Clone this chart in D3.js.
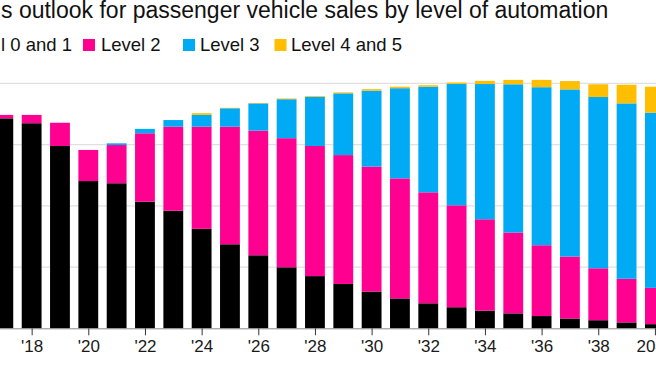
<!DOCTYPE html>
<html>
<head>
<meta charset="utf-8">
<script src="https://cdn.jsdelivr.net/npm/d3@7"></script>
<style>
  html, body { margin: 0; padding: 0; background: #fff; overflow: hidden; }
  svg { display: block; font-family: "Liberation Sans", Arial, Helvetica, sans-serif; }
</style>
</head>
<body>
<svg id="chart" width="656" height="369"></svg>
<script>
// ---- data (millions of passenger vehicles) ----
const years    = [2017,2018,2019,2020,2021,2022,2023,2024,2025,2026,2027,2028,2029,2030,2031,2032,2033,2034,2035,2036,2037,2038,2039,2040];
const level01  = [85.7,83.7,74.4,60.1,59.2,51.7,48.0,40.6,34.3,29.8,24.9,21.3,18.1,15.0,12.2,10.2, 8.6, 7.2, 6.1, 5.0, 4.0, 3.3, 2.4, 1.7];
const level2   = [ 1.4, 3.4, 9.5,12.7,15.6,27.9,34.3,41.7,48.0,50.9,52.7,53.1,52.6,51.0,49.0,45.3,41.6,37.3,33.0,28.9,25.3,21.2,17.8,14.8];
const level3   = [ 0.0, 0.0, 0.0, 0.0, 0.7, 1.8, 2.7, 4.8, 7.5,11.1,15.9,20.1,25.2,31.0,36.8,43.1,49.5,55.2,60.5,64.5,68.2,69.9,71.6,71.5];
const level45  = [ 0.0, 0.0, 0.0, 0.0, 0.0, 0.0, 0.0, 0.7, 0.2, 0.2, 0.3, 0.3, 0.4, 0.6, 0.6, 0.6, 0.6, 1.3, 1.8, 3.0, 3.4, 5.2, 7.6,10.6];
const seriesKeys   = ["level01","level2","level3","level45"];
const seriesLabels = ["l 0 and 1","Level 2","Level 3","Level 4 and 5"];
const seriesColors = ["#000000","#ff0090","#00aaf5","#ffbe00"];
const tickYears  = [2018,2020,2022,2024,2026,2028,2030,2032,2034,2036,2038,2040];
const tickLabels = ["'18","'20","'22","'24","'26","'28","'30","'32","'34","'36","'38","2040"];
const gridValues = [25,50,75,100];
const titleText  = "s outlook for passenger vehicle sales by level of automation";

// ---- build table ----
const table = years.map((y,i) => ({year:y, level01:level01[i], level2:level2[i], level3:level3[i], level45:level45[i]}));

const svg = d3.select("#chart");
const W = 656, H = 369;

const step = 28.33;
const x0 = -10.85;
const x = d3.scaleBand().domain(years).range([x0, x0 + step*years.length]).paddingInner(0.3).paddingOuter(0.15);
const y = d3.scaleLinear().domain([0,100]).range([328.3, 83.3]);

// gridlines
svg.append("g").selectAll("line").data(gridValues).join("line")
  .attr("x1", 0).attr("x2", W)
  .attr("y1", d => y(d)).attr("y2", d => y(d))
  .attr("stroke", "#e0e0e0").attr("stroke-width", 1.3);

// stacked bars
const stack = d3.stack().keys(seriesKeys)(table);
svg.append("g").selectAll("g").data(stack).join("g")
  .attr("fill", (d,i) => seriesColors[i])
  .selectAll("rect").data(d => d).join("rect")
    .attr("x", d => x(d.data.year))
    .attr("width", x.bandwidth())
    .attr("y", d => y(d[1]))
    .attr("height", d => Math.max(0, y(d[0]) - y(d[1])));

// x axis
const xTickScale = d3.scaleLinear().domain([2017, 2018]).range([x(2017) + x.bandwidth()/2, x(2018) + x.bandwidth()/2]);
const axis = d3.axisBottom(xTickScale).tickValues(tickYears).tickSize(7).tickPadding(5)
  .tickFormat((d,i) => tickLabels[i]);
const gx = svg.append("g").attr("transform", `translate(0,${y(0)})`).call(axis);
gx.select(".domain").remove();
gx.insert("line", ":first-child").attr("x1", 0).attr("x2", W).attr("y1", 0.5).attr("y2", 0.5)
  .attr("stroke", "#8a8a8a").attr("stroke-width", 1);
gx.selectAll(".tick line").attr("stroke", "#333").attr("stroke-width", 1);
gx.selectAll(".tick text").attr("fill", "#1a1a1a").style("font-size", "17px")
  .style("font-family", "'Liberation Sans', Arial, sans-serif");

// title
svg.append("text").attr("x", 1).attr("y", 17.5)
  .attr("fill", "#111").style("font-size", "23px").text(titleText);

// legend
const legendText = [1, 101, 200, 291];
const legendSq = [-16, 83, 183, 274.5];
const lg = svg.append("g");
seriesLabels.forEach((lab,i) => {
  lg.append("rect").attr("x", legendSq[i]).attr("y", 39).attr("width", 12).attr("height", 12).attr("fill", seriesColors[i]);
  lg.append("text").attr("x", legendText[i]).attr("y", 50.5).attr("fill", "#111").style("font-size", "18.5px").text(lab);
});
</script>
</body>
</html>
